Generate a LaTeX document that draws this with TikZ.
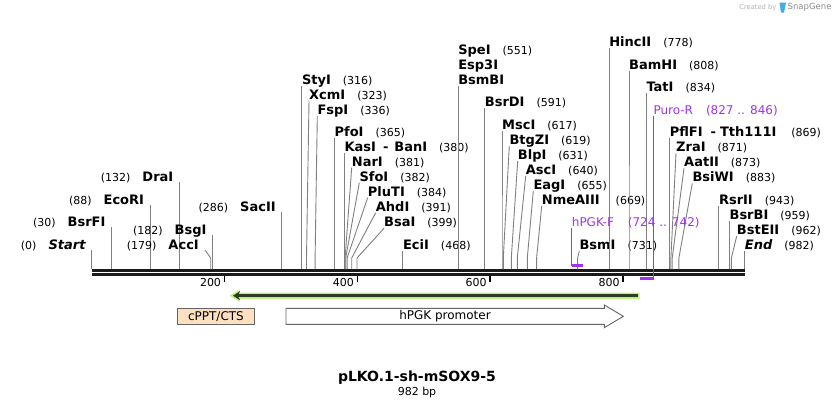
\documentclass[tikz,border=0pt]{standalone}
\usepackage{fontspec}
\setmainfont{DejaVu Sans}
\usetikzlibrary{calc,arrows.meta}
\definecolor{seqc}{RGB}{26,26,26}
\definecolor{linec}{RGB}{128,128,128}
\definecolor{primc}{RGB}{160,50,240}
\definecolor{lightg}{RGB}{190,240,135}
\definecolor{darkg}{RGB}{45,60,35}
\definecolor{cpptc}{RGB}{253,224,192}
\definecolor{featborder}{RGB}{100,100,100}
\definecolor{sgblue}{RGB}{70,170,230}
\newcommand\numf{\fontsize{11}{13}\selectfont\mdseries\upshape}
\newcommand\rsite[6]{%
  \coordinate (#1-s) at (#2,269);
  \coordinate (#1-b) at (#2,258);
  \node[sitelab, anchor=base west] (#1) at (#3,#4+4.5) {#5\hspace{12pt}{\numf #6}};
  \draw[siteline] (#1-s) -- (#1-b) -- ($(#1.base west)+(0,1.5)$);
}
\newcommand\lsite[6]{%
  \coordinate (#1-s) at (#2,269);
  \coordinate (#1-b) at (#2,258);
  \node[sitelab, anchor=base east] (#1) at (#3-6,#4+4.5) {{\numf #6}\hspace{12pt}#5};
  \draw[siteline] (#1-s) -- (#1-b) -- ($(#1.base east)+(6,0.5)$);
}
\tikzset{
  sitelab/.style={inner sep=0pt, font=\fontsize{13}{15}\selectfont\bfseries, text=black},
  siteline/.style={draw=linec, line width=0.9pt},
  seqline/.style={draw=seqc, line width=2.4pt},
  tickline/.style={draw=black, line width=1.6pt},
  ticklab/.style={inner sep=0pt, anchor=east, font=\fontsize{11}{13}\selectfont},
  primlab/.style={inner sep=0pt, anchor=base west, font=\fontsize{12}{14}\selectfont, text=primc},
  primline/.style={draw=primc, line width=1pt},
  primbar/.style={draw=primc, line width=2.5pt},
  featlab/.style={inner sep=0pt, font=\fontsize{12}{14}\selectfont},
}
\begin{document}
\begin{tikzpicture}[x=1pt,y=-1pt]
\useasboundingbox (0,0) rectangle (836,408);
\fill[white] (0,0) rectangle (836,408);

% sequence backbone
\coordinate (seqA1) at (91.7,270.5);
\coordinate (seqB1) at (744.7,270.5);
\coordinate (seqA2) at (91.7,274.5);
\coordinate (seqB2) at (744.7,274.5);
\draw[seqline] (seqA1) -- (seqB1);
\draw[seqline] (seqA2) -- (seqB2);

% scale ticks
\foreach \xx/\lab in {224.5/200,357.4/400,490.2/600,623.1/800}{
  \coordinate (tk\lab a) at (\xx,275.7);
  \coordinate (tk\lab b) at (\xx,281.7);
  \draw[tickline] (tk\lab a) -- (tk\lab b);
  \node[ticklab] (tl\lab) at (\xx-3.3,282.5) {\lab};
}

% left-side sites
\lsite{Start}{91.7}{91.7}{245}{\itshape Start}{(0)}
\lsite{BsrFI}{111.6}{111.6}{222}{BsrFI}{(30)}
\lsite{EcoRI}{150.2}{150.2}{200}{EcoRI}{(88)}
\lsite{DraI}{179.5}{179.5}{177}{DraI}{(132)}
\lsite{BsgI}{212.7}{212.7}{230}{BsgI}{(182)}
\lsite{AccI}{210.7}{205}{245}{AccI}{(179)}
\lsite{SacII}{281.9}{281.9}{207}{SacII}{(286)}

% right-side sites
\rsite{StyI}{301.8}{301.8}{80}{StyI}{(316)}
\rsite{XcmI}{306.5}{309}{94.5}{XcmI}{(323)}
\rsite{FspI}{315.1}{317.3}{110}{FspI}{(336)}
\rsite{PfoI}{334.4}{334.4}{131.7}{PfoI}{(365)}
\rsite{KasI}{344.4}{344.4}{147}{KasI\hspace{7pt}-\hspace{6pt}BanI}{(380)}
\rsite{NarI}{345.1}{351.7}{161.7}{NarI}{(381)}
\rsite{SfoI}{345.7}{359.3}{176.7}{SfoI}{(382)}
\rsite{PluTI}{347.1}{367.7}{191.7}{PluTI}{(384)}
\rsite{AhdI}{351.7}{375.7}{206.7}{AhdI}{(391)}
\rsite{BsaI}{357.0}{384}{222.3}{BsaI}{(399)}
\rsite{EciI}{402.9}{402.9}{245}{EciI}{(468)}

\node[sitelab, anchor=base west] (SpeI) at (458.1,50+4.5) {SpeI\hspace{12pt}{\numf (551)}};
\node[sitelab, anchor=base west] (Esp3I) at (458.1,65+4.5) {Esp3I};
\rsite{BsmBI}{458.1}{458.1}{80}{BsmBI}{}

\rsite{BsrDI}{484.7}{484.7}{101.7}{BsrDI}{(591)}
\rsite{MscI}{502.0}{502.0}{125}{MscI}{(617)}
\rsite{BtgZI}{503.3}{509.3}{140}{BtgZI}{(619)}
\rsite{BlpI}{511.3}{517.7}{155}{BlpI}{(631)}
\rsite{AscI}{517.3}{525.7}{170}{AscI}{(640)}
\rsite{EagI}{527.3}{533.3}{185}{EagI}{(655)}
\rsite{NmeAIII}{536.6}{541.7}{200}{NmeAIII}{\hspace{4pt}(669)}
\rsite{BsmI}{577.6}{579.3}{245}{BsmI}{(731)}

\rsite{HincII}{609.1}{609.1}{42.3}{HincII}{(778)}
\rsite{BamHI}{629.0}{629.0}{65}{BamHI}{(808)}
\rsite{TatI}{646.3}{646.3}{87.3}{TatI}{(834)}
\rsite{PflFI}{669.6}{669.6}{131.7}{PflFI\hspace{8pt}-\hspace{4pt}Tth111I}{\hspace{3pt}(869)}
\rsite{ZraI}{670.9}{676}{147.3}{ZraI}{(871)}
\rsite{AatII}{672.2}{684}{162.3}{AatII}{(873)}
\rsite{BsiWI}{678.9}{692.3}{177.3}{BsiWI}{(883)}
\rsite{RsrII}{718.8}{718.8}{200}{RsrII}{(943)}
\rsite{BsrBI}{729.4}{729.4}{215}{BsrBI}{(959)}
\rsite{BstEII}{731.4}{736.7}{230}{BstEII}{(962)}
\rsite{End}{744.7}{744.7}{245}{\itshape End}{(982)}

% primers
\node[primlab] (hPGKF) at (571.7,221.7+4.3) {hPGK-F\hspace{14pt}(724 .. 742)};
\coordinate (hPGKFa) at (571.7,265.7);
\coordinate (hPGKFb) at (582.7,265.7);
\draw[primline] ($(hPGKF.base west)+(0,2)$) -- (hPGKFa);
\draw[primbar] (hPGKFa) -- (hPGKFb);

\node[primlab] (PuroR) at (653.3,110+4.3) {Puro-R\hspace{13pt}(827 .. 846)};
\coordinate (PuroRa) at (640,278.7);
\coordinate (PuroRb) at (653.3,278.7);
\coordinate (PuroRc) at (653.3,280);
\draw[primline] ($(PuroR.base west)+(0,2)$) -- (PuroRc);
\draw[primbar] (PuroRa) -- (PuroRb);

% green arrow (feature, reverse)
\fill[lightg] (229.5,295.7) -- (239.5,289.8) -- (239.5,292.6) -- (639.5,292.6) -- (639.5,298.8) -- (239.5,298.8) -- (239.5,301.6) -- cycle;
\draw[darkg, line width=2.6pt, -{Stealth[length=7pt,width=9pt]}] (637.5,295.7) -- (233,295.7);

% cPPT/CTS box
\node[featlab, draw=featborder, fill=cpptc, line width=0.9pt, minimum width=77.6pt, minimum height=16pt, anchor=north west] (cppt) at (176.7,308.3) {cPPT/CTS};

% hPGK promoter arrow
\draw[draw=featborder, fill=white, line width=0.9pt] (286,308.3) -- (604.3,308.3) -- (604.3,305) -- (623.3,316.3) -- (604.3,327.7) -- (604.3,324.3) -- (286,324.3) -- cycle;
\node[featlab] (hpgk) at (445,316.3) {hPGK promoter};

% title
\node[inner sep=0pt, font=\fontsize{14}{16}\selectfont\bfseries] (title) at (417,378) {pLKO.1-sh-mSOX9-5};
\node[inner sep=0pt, font=\fontsize{11}{13}\selectfont] (len) at (417,392.5) {982 bp};

% watermark
\node[inner sep=0pt, anchor=east, font=\fontsize{6.7}{8}\selectfont, text=black!30] (cb) at (776.5,7.5) {Created by};
\fill[sgblue] (779.5,2.5) -- (786,2.5) -- (784,12.5) -- (781,12.5) -- cycle;
\node[inner sep=0pt, anchor=west, font=\fontsize{8.5}{10}\selectfont, text=black!45] (sg) at (787.5,7.5) {SnapGene};
\end{tikzpicture}
\end{document}
